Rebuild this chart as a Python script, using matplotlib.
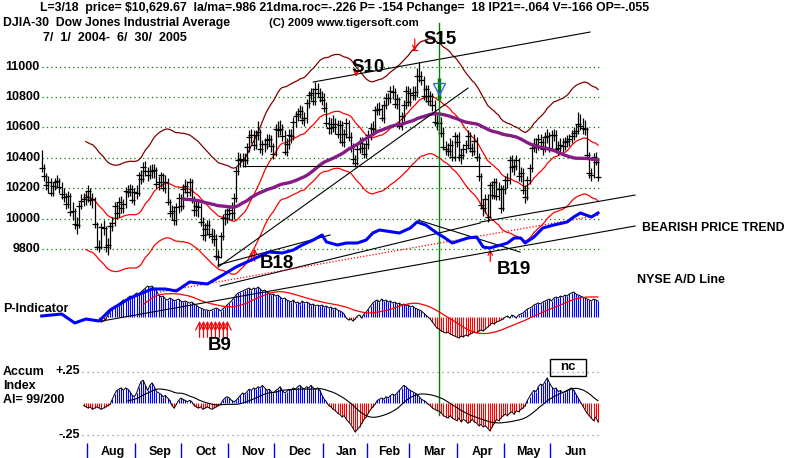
import numpy as np
import pandas as pd
import matplotlib
matplotlib.use("Agg")
import matplotlib.pyplot as plt
from matplotlib.patches import Rectangle

plt.rcParams["font.family"] = ["Liberation Sans", "DejaVu Sans"]

W, H = 800, 458

# trading days per month, Jul 2004 .. Jun 2005
month_names = ["Jul", "Aug", "Sep", "Oct", "Nov", "Dec", "Jan", "Feb", "Mar", "Apr", "May", "Jun"]
month_days = [21, 22, 21, 21, 21, 22, 20, 19, 22, 21, 21, 22]

# DJIA daily bars
closes = [
    10334, 10282, 10219, 10240, 10171, 10213, 10238, 10247, 10208, 10163, 10139, 10094, 10149, 10046, 10050, 9962, 9961, 10085, 10117, 10129, 10140,
    10179, 10120, 10126, 9963, 9815, 9814, 9944, 9938, 9814, 9825, 9954, 9972, 10083, 10040, 10110, 10073, 10098, 10181, 10173, 10195, 10122, 10173,
    10168, 10290, 10260, 10341, 10313, 10289, 10314, 10314, 10318, 10231, 10244, 10284, 10204, 10244, 10109, 10038, 10047, 9988, 10077, 10136, 10080,
    10192, 10216, 10177, 10240, 10125, 10055, 10081, 10077, 9979, 9894, 9933, 9956, 9898, 9886, 9866, 9757, 9749, 9888, 10002, 10004, 10027,
    10054, 10035, 10137, 10315, 10387, 10391, 10386, 10385, 10469, 10539, 10550, 10487, 10549, 10572, 10456, 10489, 10492, 10520, 10522, 10475, 10428,
    10590, 10585, 10592, 10547, 10440, 10494, 10552, 10543, 10638, 10676, 10691, 10705, 10649, 10661, 10759, 10815, 10828, 10777, 10854, 10829, 10800, 10783,
    10730, 10630, 10597, 10622, 10603, 10621, 10556, 10617, 10505, 10558, 10628, 10539, 10471, 10393, 10368, 10461, 10498, 10467, 10427, 10489,
    10551, 10596, 10593, 10716, 10715, 10724, 10664, 10749, 10796, 10791, 10837, 10834, 10754, 10785, 10611, 10673, 10748, 10841, 10766,
    10830, 10811, 10833, 10940, 10936, 10912, 10805, 10851, 10774, 10804, 10745, 10633, 10627, 10630, 10565, 10471, 10456, 10442, 10486, 10406, 10541, 10504,
    10404, 10421, 10459, 10486, 10547, 10462, 10448, 10508, 10403, 10278, 10087, 10071, 10127, 10012, 10218, 10157, 10242, 10151, 10198, 10070, 10193,
    10251, 10256, 10384, 10340, 10345, 10384, 10281, 10300, 10189, 10140, 10252, 10332, 10464, 10493, 10471, 10523, 10503, 10457, 10537, 10542, 10467,
    10549, 10553, 10460, 10467, 10483, 10476, 10503, 10512, 10522, 10547, 10566, 10578, 10623, 10609, 10599, 10587, 10421, 10297, 10290, 10405, 10374, 10275,
]
highs = [
    10450, 10360, 10300, 10280, 10270, 10240, 10270, 10290, 10270, 10240, 10200, 10170, 10180, 10170, 10110, 10070, 10010, 10110, 10160, 10170, 10180,
    10220, 10200, 10170, 10140, 9980, 9860, 9970, 9990, 9950, 9870, 9980, 10010, 10110, 10110, 10140, 10150, 10130, 10210, 10220, 10230, 10220, 10200,
    10220, 10310, 10320, 10370, 10380, 10340, 10350, 10360, 10360, 10340, 10280, 10310, 10300, 10290, 10270, 10130, 10090, 10080, 10100, 10170, 10160,
    10230, 10260, 10250, 10270, 10260, 10150, 10120, 10120, 10100, 10010, 9970, 9990, 9990, 9940, 9930, 9900, 9790, 9910, 10030, 10060, 10070,
    10090, 10110, 10170, 10340, 10440, 10430, 10430, 10430, 10500, 10580, 10590, 10580, 10580, 10640, 10590, 10520, 10530, 10560, 10560, 10550, 10500,
    10620, 10640, 10650, 10620, 10580, 10530, 10590, 10590, 10670, 10710, 10730, 10750, 10740, 10700, 10790, 10840, 10860, 10860, 10900, 10890, 10860, 10840,
    10830, 10770, 10670, 10660, 10680, 10660, 10650, 10650, 10640, 10590, 10660, 10650, 10570, 10500, 10420, 10500, 10540, 10540, 10500, 10520,
    10580, 10630, 10640, 10740, 10760, 10770, 10750, 10780, 10830, 10830, 10870, 10880, 10860, 10820, 10800, 10700, 10780, 10870, 10870,
    10860, 10870, 10870, 10990, 11030, 10970, 10940, 10880, 10880, 10840, 10830, 10780, 10680, 10680, 10670, 10600, 10510, 10500, 10530, 10520, 10570, 10560,
    10570, 10460, 10490, 10520, 10580, 10570, 10500, 10560, 10540, 10430, 10300, 10130, 10160, 10160, 10240, 10250, 10270, 10270, 10240, 10220, 10220,
    10280, 10300, 10410, 10420, 10390, 10420, 10400, 10340, 10330, 10220, 10280, 10360, 10490, 10530, 10530, 10560, 10560, 10530, 10570, 10590, 10570,
    10580, 10590, 10580, 10510, 10530, 10530, 10540, 10550, 10560, 10580, 10600, 10620, 10700, 10690, 10660, 10650, 10600, 10440, 10330, 10430, 10440, 10400,
]
lows = [
    10310, 10250, 10190, 10170, 10150, 10150, 10190, 10200, 10170, 10130, 10110, 10060, 10070, 10020, 9990, 9930, 9900, 9940, 10060, 10080, 10090,
    10110, 10090, 10070, 9940, 9790, 9780, 9800, 9890, 9780, 9760, 9800, 9920, 9950, 10000, 10010, 10040, 10040, 10070, 10140, 10150, 10100, 10090,
    10130, 10150, 10230, 10240, 10280, 10250, 10260, 10270, 10270, 10200, 10190, 10210, 10180, 10170, 10090, 10010, 9990, 9960, 9960, 10040, 10050,
    10060, 10170, 10140, 10150, 10100, 10020, 10020, 10010, 9950, 9860, 9850, 9890, 9870, 9840, 9820, 9730, 9690, 9740, 9860, 9960, 9970,
    9990, 9990, 10000, 10110, 10290, 10340, 10340, 10340, 10360, 10440, 10500, 10450, 10460, 10520, 10430, 10420, 10440, 10460, 10480, 10440, 10390,
    10410, 10540, 10550, 10510, 10420, 10410, 10460, 10500, 10520, 10600, 10640, 10660, 10620, 10610, 10630, 10730, 10780, 10750, 10750, 10800, 10770, 10750,
    10700, 10600, 10560, 10560, 10570, 10560, 10530, 10500, 10480, 10470, 10530, 10510, 10440, 10360, 10340, 10350, 10430, 10430, 10400, 10400,
    10460, 10520, 10550, 10570, 10680, 10680, 10640, 10630, 10720, 10750, 10760, 10790, 10730, 10720, 10590, 10580, 10640, 10720, 10740,
    10740, 10780, 10780, 10800, 10900, 10880, 10780, 10770, 10750, 10740, 10710, 10610, 10580, 10570, 10540, 10450, 10420, 10410, 10410, 10380, 10380, 10470,
    10380, 10360, 10390, 10430, 10460, 10440, 10410, 10420, 10380, 10250, 10060, 10020, 10040, 9980, 10010, 10130, 10130, 10120, 10120, 10040, 10050,
    10160, 10200, 10230, 10310, 10290, 10320, 10250, 10240, 10160, 10100, 10120, 10230, 10310, 10440, 10430, 10450, 10470, 10420, 10440, 10500, 10440,
    10450, 10510, 10430, 10420, 10430, 10440, 10450, 10470, 10480, 10500, 10520, 10540, 10560, 10580, 10560, 10550, 10400, 10270, 10250, 10270, 10350, 10250,
]

# NYSE A/D line (arbitrary cumulative units), sampled where it turns
ad_days = [0, 9, 15, 20, 26, 31, 40, 50, 56, 61, 67, 75, 82, 88, 93, 98, 103, 109, 114, 118,
           123, 127, 129, 134, 138, 143, 147, 150, 153, 159, 162, 167, 170, 174, 179, 182, 186, 193, 197, 200,
           203, 208, 211, 214, 217, 219, 223, 227, 232, 238, 241, 244, 249, 252]
ad_values = [4, 6, -3, 1, -1, 10, 22, 31, 31, 29, 38, 36, 45, 53, 58, 63, 68, 67, 70, 75,
             80, 85, 78, 75, 77, 77, 80, 87, 90, 88, 87, 92, 98, 95, 87, 83, 77, 82, 83, 73,
             72, 75, 77, 82, 82, 77, 83, 92, 95, 98, 103, 107, 103, 107]

# P-Indicator (scaled), first value on trading day 26
p_first_day = 26
p_indicator = [
    -3, -5, -4, -2,
    2, 5, 8, 10, 11, 13,
    15, 17, 16, 19, 21, 20, 22, 24, 23, 25,
    27, 29, 31, 30, 31, 28, 26,
    22, 20, 21, 18, 17, 19, 18, 16, 17, 18, 16,
    15, 16, 15, 14, 15, 13,
    12, 10, 9, 8, 7, 7, 6,
    7, 8, 9, 8, 6, 8, 10, 12, 14, 16,
    19, 22, 24, 25, 26, 27,
    28, 29, 27, 29, 28, 30, 28, 26, 27, 25, 24,
    22, 23, 21, 22, 20, 18, 19, 17,
    16, 15, 17, 14, 15, 13, 16, 14, 15, 14, 12, 13, 11, 12,
    11, 12, 10, 11, 9, 10, 8, 9, 7, 6, 5,
    3, -1, -3, -2,
    -4, -2, 1, 2, -1, 3, 5,
    8, 11, 14,
    16, 17, 15, 18, 16, 17, 15, 16, 14, 15,
    13, 14, 12, 13, 11, 12, 10, 11, 9, 8,
    7, 6, 4, 2, 0, -2,
    -5, -8, -11, -12, -14, -15, -16, -15, -17, -18,
    -19, -20, -21, -19, -20, -18, -19,
    -17, -16, -15, -16, -14, -13, -14, -12, -10,
    -8, -6, -7, -5, -4, -3,
    -2, 0, 1, -1, 2, 1, -1, 2, 3, 4,
    6, 8, 9, 10, 12, 13, 14, 13, 15, 16,
    17, 18, 16, 19, 20, 19, 21, 20, 22, 21, 23, 24, 25,
    23, 22, 21, 20, 19, 18, 17, 16, 18, 17, 16,
]

# Accumulation Index, first value on trading day 19
ai_first_day = 19
accum_index = [
    -0.02, -0.03, -0.04, -0.03, -0.05, -0.04, -0.03, -0.04, -0.05, -0.04, -0.03, -0.02, -0.01,
    0.03, 0.07, 0.10, 0.11, 0.12, 0.10, 0.12, 0.11, 0.09,
    0.06, 0.05, 0.08,
    0.13, 0.17, 0.18, 0.14, 0.10,
    0.14, 0.16, 0.13,
    0.09, 0.08, 0.07, 0.05, 0.06, 0.04, 0.02,
    -0.02, -0.04, -0.01,
    0.02, 0.04, 0.03, 0.02, 0.01, 0.02, 0.01,
    -0.02, -0.03, -0.04, -0.03, -0.05, -0.04, -0.03, -0.04, -0.05, -0.04, -0.03, -0.02, -0.01,
    0.02, 0.04, 0.05, 0.04, 0.02, 0.01,
    0.02, 0.04, 0.06, 0.08, 0.07, 0.09, 0.11, 0.10, 0.12, 0.11, 0.13, 0.12,
    0.14, 0.12, 0.10, 0.11, 0.09, 0.08, 0.10, 0.11, 0.13, 0.10, 0.08, 0.09, 0.11, 0.10,
    0.12, 0.11, 0.13, 0.14, 0.12, 0.11, 0.13, 0.12, 0.14, 0.12, 0.11, 0.12, 0.10,
    0.06, 0.03, 0.01, -0.02,
    -0.03, -0.05, -0.06, -0.08, -0.09, -0.11, -0.10, -0.13, -0.15, -0.17, -0.20,
    -0.23, -0.21, -0.19, -0.16, -0.13, -0.11, -0.08, -0.05, -0.03, -0.01,
    0.02, 0.03, 0.04, 0.03, 0.05, 0.04, 0.06, 0.07, 0.06, 0.08, 0.10, 0.12,
    0.14, 0.13, 0.11, 0.10, 0.09, 0.08, 0.07, 0.05,
    0.03, 0.02, 0.01, -0.01, -0.02, -0.04,
    -0.05, -0.06, -0.064, -0.08, -0.10, -0.11, -0.12, -0.10, -0.12,
    -0.13, -0.14, -0.12, -0.15, -0.13, -0.14, -0.16, -0.15, -0.13, -0.15,
    -0.16, -0.18, -0.17, -0.19, -0.18, -0.20, -0.22, -0.19,
    -0.16, -0.13, -0.14, -0.12,
    -0.10, -0.09, -0.10, -0.08, -0.07, -0.09, -0.06, -0.07, -0.05, -0.04, -0.02,
    0.02, 0.05, 0.08, 0.10, 0.09,
    0.13, 0.15, 0.14, 0.17, 0.20, 0.16,
    0.13, 0.11, 0.12, 0.09, 0.10, 0.08, 0.09, 0.10, 0.11,
    0.12, 0.10, 0.07, 0.04,
    0.01, -0.02, -0.05,
    -0.08, -0.10, -0.12, -0.14, -0.11, -0.15,
]

price_levels = [11000, 10800, 10600, 10400, 10200, 10000, 9800]
signal_day = 180  # 3/18/2005

# trendlines drawn on the chart: ((day, price), (day, price))
price_trendlines = [
    ((123.0, 10899), (248.4, 11228)),
    ((79.9, 9681), (193.1, 10859)),
    ((91.2, 10345), (203.1, 10345)),
    ((198.6, 9977), (268.8, 10155)),
]
# trendlines on the A/D line: ((day, ad), (day, ad))
ad_trendlines = [
    ((27.3, -1), (268.8, 94)),
    ((79.9, 55), (130.6, 85)),
    ((80.8, 34), (198.6, 97)),
    ((170.5, 100), (216.7, 68)),
]
ad_dotted = [((53.6, 28), (252.9, 105))]

# signal arrows: (day, tail price, head price)
sell_arrows = [(142.5, 10990, 10915), (169.0, 11200, 11085)]
buy_arrows = [(96.5, 9700, 9820), (95.0, 9700, 9800), (203.2, 9700, 9815)]
b9_days = [71.5, 73.3, 75.1, 76.9, 78.7, 80.5, 82.3, 84.1]

# ---- layout: one pixel-aligned frame, several value scales ----
DAY0_PX = 41.7
PX_PER_DAY = 2.2075
x_lo = -DAY0_PX / PX_PER_DAY
x_hi = (W - DAY0_PX) / PX_PER_DAY

fig = plt.figure(figsize=(W / 100, H / 100), dpi=100)
ax = fig.add_axes([0, 0, 1, 1])
ax.set_xlim(x_lo, x_hi)
ax.set_ylim(8424, 11439)
ax.axis("off")

p_ax = ax.twinx()
p_ax.set_ylim(317 - H, 317)
p_ax.axis("off")
ad_ax = ax.twinx()
ad_ax.set_ylim(320 - H, 320)
ad_ax.axis("off")
ai_ax = ax.twinx()
ai_ax.set_ylim((403 - H) / 126.0, 403 / 126.0)
ai_ax.axis("off")

BOLD = dict(fontweight="bold", color="black")


def ftext(x, y, s, size=9, **kw):
    fig.text(x / W, 1 - y / H, s, fontsize=size, va="center", **BOLD, **kw)


days = np.arange(len(closes))
close_s = pd.Series(closes, dtype=float)
ma21 = close_s.rolling(21).mean()
ma65 = close_s.rolling(65).mean()

# gridlines and price labels
ax.hlines(price_levels, 0, 253, colors="#008000", linestyles=(0, (1, 2.5)), lw=0.9)
for lv in price_levels:
    ax.text(40 / W, lv, str(lv), transform=ax.get_yaxis_transform(),
            ha="right", va="center", fontsize=9, **BOLD)

# bands and averages
ax.plot(days, ma21 * 1.035, color="#800000", lw=0.9)
ax.plot(days, ma21, color="#ff0000", lw=0.9)
ax.plot(days, ma21 * 0.965, color="#ff0000", lw=0.9)

# price bars
ax.vlines(days, lows, highs, colors="black", lw=0.9)
ax.plot(days, closes, ls="none", marker="_", ms=4.5, mew=0.9, color="black")
ax.plot(days, ma65, color="#851c85", lw=2.4, solid_capstyle="round")

for (d0, v0), (d1, v1) in price_trendlines:
    ax.plot([d0, d1], [v0, v1], color="black", lw=0.8)

# green signal-date line
ax.axvline(signal_day, ymin=1 - 415 / H, ymax=1 - 23 / H, color="#008000", lw=1)
ax.vlines(signal_day, 10780, 10925, colors="#008000", lw=2.5)
ax.plot([signal_day], [10850], marker="v", ms=9, mfc="none", mec="#3a5fff", mew=1)

# P-Indicator
p_vals = np.array(p_indicator, dtype=float)
p_days = np.arange(p_first_day, p_first_day + len(p_vals))
p_ax.vlines(p_days, 0, p_vals, colors=np.where(p_vals >= 0, "#0000ff", "#ff0000"), lw=0.8)
p_ax.plot(p_days, p_vals, color="black", lw=0.7)
p_ax.plot(p_days, pd.Series(p_vals).rolling(21).mean(), color="#ff0000", lw=0.9)

# A/D line with its trendlines
for (d0, v0), (d1, v1) in ad_trendlines:
    ad_ax.plot([d0, d1], [v0, v1], color="black", lw=0.8)
for (d0, v0), (d1, v1) in ad_dotted:
    ad_ax.plot([d0, d1], [v0, v1], color="#ff0000", lw=0.9, ls=(0, (1, 1.5)))
ad_ax.plot(ad_days, ad_values, color="#0000ff", lw=2.2, solid_joinstyle="round")

# Accumulation Index
ai_vals = np.array(accum_index, dtype=float)
ai_days = np.arange(ai_first_day, ai_first_day + len(ai_vals))
ai_ax.hlines([0.25, -0.25], (82 - DAY0_PX) / PX_PER_DAY, 253, colors="#8a8a8a",
             linestyles=(0, (1, 3)), lw=0.9)
ai_ax.vlines(ai_days, 0, ai_vals, colors=np.where(ai_vals >= 0, "#0000ff", "#ff0000"), lw=0.8)
ai_ax.plot(ai_days, ai_vals, color="black", lw=0.7)
ai_ax.plot(ai_days, pd.Series(ai_vals).rolling(21).mean(), color="black", lw=0.8)
for lv, lab in [(0.25, "+.25"), (-0.25, "-.25")]:
    ai_ax.text(80 / W, lv, lab, transform=ai_ax.get_yaxis_transform(),
               ha="right", va="center", fontsize=9, **BOLD)

# signal arrows
for d, tail, head in sell_arrows + buy_arrows:
    ax.annotate("", xy=(d, head), xytext=(d, tail),
                arrowprops=dict(arrowstyle="->", color="#ff0000", lw=0.9, mutation_scale=8))
ax.plot([167.8, 170.2], [11110, 11110], color="#ff0000", lw=0.9)
for d in b9_days:
    ax.annotate("", xy=(d, 9345), xytext=(d, 9200),
                arrowprops=dict(arrowstyle="->", color="#ff0000", lw=0.9,
                                mutation_scale=14))

# month axis
starts = np.cumsum([0] + month_days)
ax.vlines(starts[1:-1] - 0.7, 0, 1 - 443 / H, transform=ax.get_xaxis_transform(),
          colors="#0000ff", lw=1)
for i in range(1, len(month_names)):
    mid = (starts[i] + starts[i + 1]) / 2.0
    ax.text(mid, 1 - 446 / H, month_names[i], transform=ax.get_xaxis_transform(),
            ha="center", va="top", fontsize=9, **BOLD)

# text
ftext(40, 8, "L=3/18  price= $10,629.67  la/ma=.986 21dma.roc=-.226 P= -154 Pchange=  18 "
             "IP21=-.064 V=-166 OP=-.055", size=8.8)
ftext(3, 23, "DJIA-30  Dow Jones Industrial Average", size=8.8)
ftext(269, 23, "(C) 2009 www.tigersoft.com", size=8.2)
ftext(43, 38, "7/  1/  2004-  6/  30/  2005", size=9)
ftext(3, 309, "P-Indicator")
ftext(3, 372, "Accum")
ftext(3, 386, "Index")
ftext(3, 400, "AI= 99/200")
ftext(637, 280, "NYSE A/D Line")
ftext(642, 228, "BEARISH PRICE TREND", size=8.8)
for lab, x, y in [("S10", 368, 67), ("S15", 440, 40), ("B18", 277, 264),
                  ("B19", 514, 270), ("B9", 220, 345)]:
    ftext(x, y, lab, size=13.5, ha="center")

fig.patches.append(Rectangle((550 / W, 1 - 376 / H), 36 / W, 17 / H, transform=fig.transFigure,
                             fill=False, ec="black", lw=1))
ftext(568, 367.5, "nc", size=9.5, ha="center")

fig.savefig("out.png", dpi=100)
